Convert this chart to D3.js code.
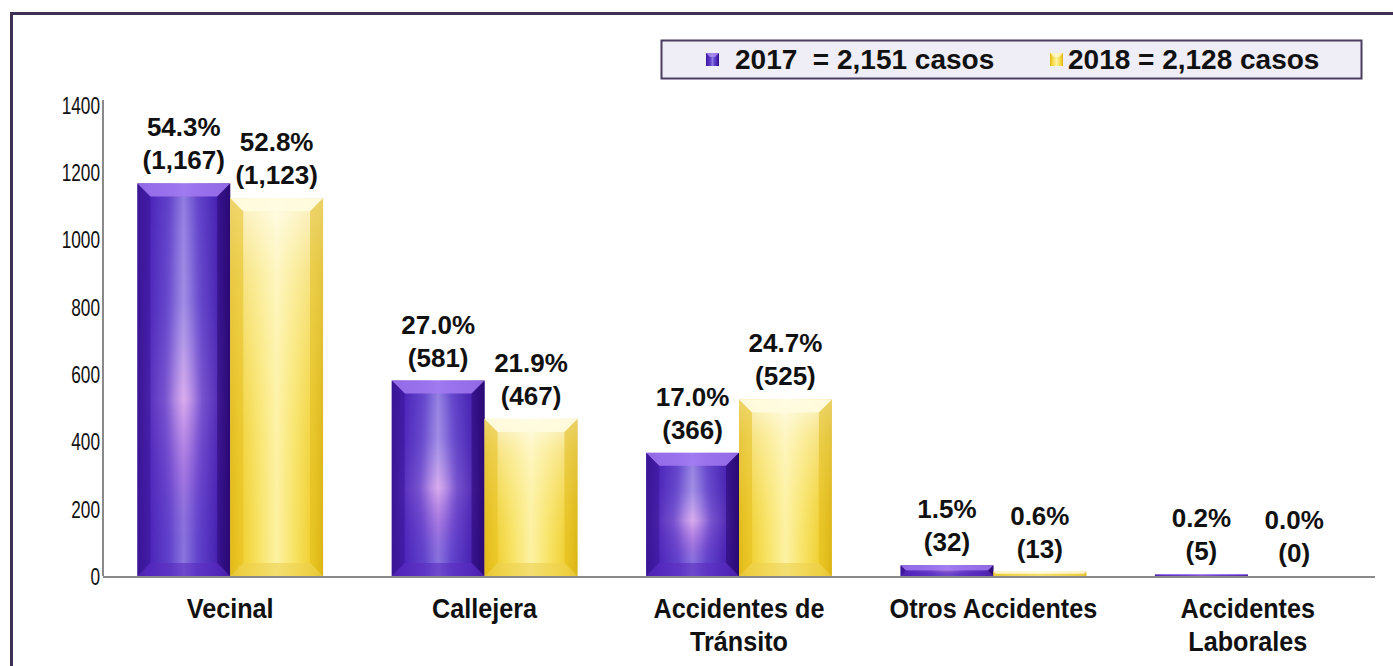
<!DOCTYPE html>
<html><head><meta charset="utf-8">
<script src="https://cdn.jsdelivr.net/npm/d3@7"></script>
<style>
html,body{margin:0;padding:0;background:#fff;}
svg{display:block;font-family:"Liberation Sans",Arial,sans-serif;}
</style></head>
<body>
<svg id="chart" width="1393" height="666"></svg>
<script>
const categories = [["Vecinal"], ["Callejera"], ["Accidentes de", "Tránsito"], ["Otros Accidentes"], ["Accidentes", "Laborales"]];
const series = ["2017", "2018"];
const values2017 = [1167, 581, 366, 32, 5];
const values2018 = [1123, 467, 525, 13, 0];
const pct2017 = ["54.3%", "27.0%", "17.0%", "1.5%", "0.2%"];
const pct2018 = ["52.8%", "21.9%", "24.7%", "0.6%", "0.0%"];
const legendLabels = ["2017  = 2,151 casos", "2018 = 2,128 casos"];
const yTicks = [0, 200, 400, 600, 800, 1000, 1200, 1400];

const svg = d3.select("#chart");
const defs = svg.append("defs");
const margin = {left: 103, right: 18, top: 105, bottom: 90};
const W = 1393, H = 666;
const x0 = d3.scaleBand().domain(d3.range(categories.length)).range([margin.left, W - margin.right]).paddingInner(0.27).paddingOuter(0.135);
const x1 = d3.scaleBand().domain(series).range([0, x0.bandwidth()]);
const y = d3.scaleLinear().domain([0, 1400]).range([H - margin.bottom, margin.top]);

function grad(id, vertical, stops) {
  const g = defs.append("linearGradient").attr("id", id).attr("x1", 0).attr("x2", vertical ? 0 : 1).attr("y1", 0).attr("y2", vertical ? 1 : 0);
  stops.forEach(s => g.append("stop").attr("offset", s[0]).attr("stop-color", s[1]).attr("stop-opacity", s[2] == null ? 1 : s[2]));
}
grad("pBase", false, [[0, "#3a1690"], [0.12, "#4a22b8"], [0.35, "#6244cc"], [0.5, "#8e7ae0"], [0.65, "#6244cc"], [0.88, "#4620b0"], [1, "#2c0c78"]]);
grad("pGlow", true, [[0, "#ffffff", 0], [0.3, "#d8c8f4", 0.25], [0.55, "#f4bcf2", 0.75], [0.75, "#c070e0", 0.4], [1, "#4030c0", 0.0]]);
grad("pMask", false, [[0, "#fff", 0], [0.3, "#fff", 0.25], [0.5, "#fff", 1], [0.7, "#fff", 0.25], [1, "#fff", 0]]);
grad("yBase", false, [[0, "#dcb20c"], [0.1, "#efcc28"], [0.3, "#f7e262"], [0.5, "#fdf2a4"], [0.7, "#f7e262"], [0.9, "#efcc28"], [1, "#d6ac0c"]]);
grad("yGlow", true, [[0, "#ffffff", 0.75], [0.2, "#fffbe8", 0.45], [0.6, "#fff6c0", 0.15], [1, "#f6e070", 0.0]]);

const mask = defs.append("mask").attr("id", "hmask").attr("maskContentUnits", "objectBoundingBox");
mask.append("rect").attr("width", 1).attr("height", 1).attr("fill", "url(#pMask)");

// outer frame
svg.append("path").attr("d", "M11.5,666 L11.5,13.5 L1393,13.5").attr("fill", "none").attr("stroke", "#3e3153").attr("stroke-width", 3);

// y axis
const yAxis = svg.append("g").attr("transform", `translate(${margin.left},0)`)
  .call(d3.axisLeft(y).tickValues(yTicks).tickFormat(d3.format("d")).tickSize(0).tickPadding(4));
yAxis.select(".domain").remove();
yAxis.attr("font-size", null).attr("font-family", null);
yAxis.selectAll("text").attr("font-size", 23).attr("fill", "#111").attr("dy", "0.36em").attr("transform", "scale(0.75,1)");
svg.append("line").attr("x1", margin.left).attr("x2", margin.left).attr("y1", y(1400) - 5).attr("y2", y(0)).attr("stroke", "#8a8a8a").attr("stroke-width", 2);

const data = [];
categories.forEach((c, i) => {
  data.push({i, s: "2017", v: values2017[i], p: pct2017[i]});
  data.push({i, s: "2018", v: values2018[i], p: pct2018[i]});
});

const bars = svg.append("g");
data.forEach(d => {
  const bx = x0(d.i) + x1(d.s), bw = x1.bandwidth();
  const by = y(d.v), bh = y(0) - y(d.v);
  if (bh <= 0.2) return;
  const g = bars.append("g");
  const purple = d.s === "2017";
  g.append("rect").attr("x", bx).attr("y", by).attr("width", bw).attr("height", bh).attr("fill", purple ? "url(#pBase)" : "url(#yBase)");
  g.append("rect").attr("x", bx).attr("y", by).attr("width", bw).attr("height", bh).attr("fill", purple ? "url(#pGlow)" : "url(#yGlow)").attr("mask", purple ? "url(#hmask)" : null);
  const b = Math.min(13, bh / 2);
  const x2 = bx + bw, y2 = by + bh;
  g.append("polygon").attr("points", [[bx, by], [x2, by], [x2 - b, by + b], [bx + b, by + b]].join(" "))
    .attr("fill", purple ? "#a37af2" : "#fffbe0").attr("opacity", 0.85);
  g.append("polygon").attr("points", [[bx, by], [bx + b, by + b], [bx + b, y2 - b], [bx, y2]].join(" "))
    .attr("fill", purple ? "#3a1698" : "#e6c020").attr("opacity", 0.55);
  g.append("polygon").attr("points", [[x2, by], [x2 - b, by + b], [x2 - b, y2 - b], [x2, y2]].join(" "))
    .attr("fill", purple ? "#2a0870" : "#e0bc1c").attr("opacity", 0.55);
  g.append("polygon").attr("points", [[bx, y2], [bx + b, y2 - b], [x2 - b, y2 - b], [x2, y2]].join(" "))
    .attr("fill", purple ? "#5a2cc0" : "#ecd050").attr("opacity", 0.6);
});

svg.append("line").attr("x1", margin.left).attr("x2", W - margin.right).attr("y1", y(0) + 1).attr("y2", y(0) + 1).attr("stroke", "#8a8a8a").attr("stroke-width", 2);

// data labels
const labels = svg.append("g").attr("font-weight", "bold").attr("font-size", 26).attr("fill", "#111").attr("text-anchor", "middle");
data.forEach(d => {
  const cx = x0(d.i) + x1(d.s) + x1.bandwidth() / 2;
  const base = y(d.v) - 14;
  labels.append("text").attr("x", cx).attr("y", base - 33).text(d.p);
  labels.append("text").attr("x", cx).attr("y", base).text("(" + d3.format(",")(d.v) + ")");
});

// category labels (condensed)
const cl = svg.append("g").attr("font-weight", "bold").attr("font-size", 28).attr("fill", "#111").attr("text-anchor", "middle");
categories.forEach((c, i) => {
  const cx = x0(i) + x0.bandwidth() / 2;
  const g = cl.append("g").attr("transform", `translate(${cx},618) scale(0.9,1)`);
  c.forEach((line, k) => g.append("text").attr("x", 0).attr("y", k * 33).text(line));
});

// legend
const lg = svg.append("g");
lg.append("rect").attr("x", 661.5).attr("y", 40.5).attr("width", 700).attr("height", 38).attr("fill", "#efedf5").attr("stroke", "#4a3d60").attr("stroke-width", 2);
const lgx = [706, 1050];
const lgText = [735, 1068];
series.forEach((s, k) => {
  lg.append("rect").attr("x", lgx[k]).attr("y", 53).attr("width", 13).attr("height", 13).attr("fill", k === 0 ? "url(#pBase)" : "url(#yBase)");
  lg.append("polygon").attr("points", [[lgx[k], 53], [lgx[k] + 13, 53], [lgx[k] + 9, 57], [lgx[k] + 4, 57]].join(" ")).attr("fill", k === 0 ? "#b090f0" : "#fff8d0").attr("opacity", 0.8);
  lg.append("text").attr("x", lgText[k]).attr("y", 69).attr("font-weight", "bold").attr("font-size", 28).attr("fill", "#111").style("white-space", "pre").text(legendLabels[k]);
});
</script>
</body></html>
